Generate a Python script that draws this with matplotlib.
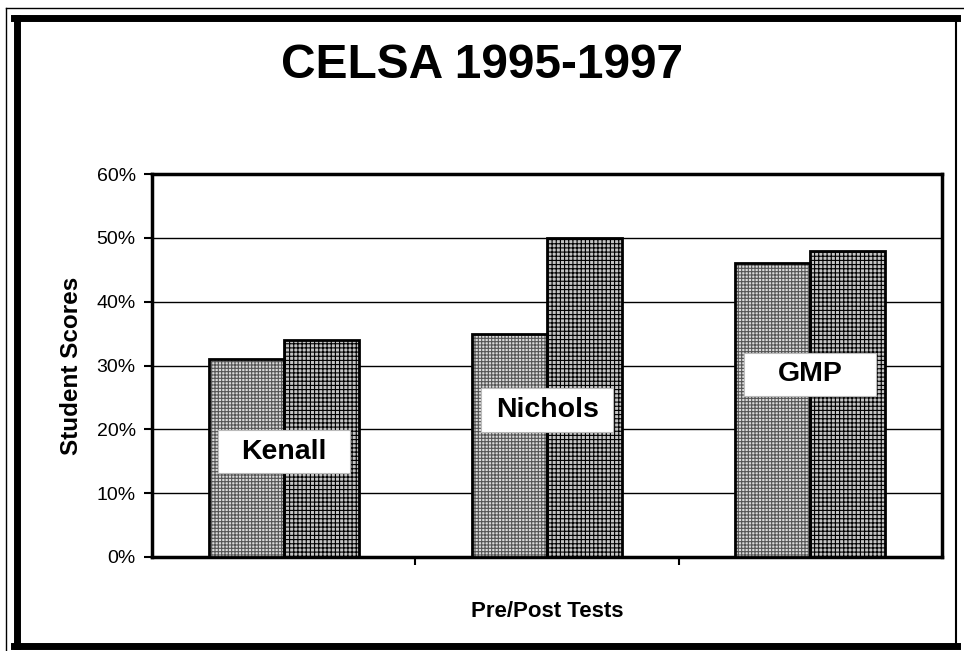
import numpy as np
import matplotlib
matplotlib.use('Agg')
import matplotlib.pyplot as plt
from matplotlib.lines import Line2D
from matplotlib.patches import Rectangle

plt.rcParams['font.family'] = ['Liberation Sans', 'DejaVu Sans']
plt.rcParams['hatch.linewidth'] = 0.8

# data
schools = ['Kenall', 'Nichols', 'GMP']
pre_scores = [31, 35, 46]
post_scores = [34, 50, 48]
label_y = [16.5, 23.0, 28.6]
y_ticks = [0, 10, 20, 30, 40, 50, 60]

fig = plt.figure(figsize=(9.64, 6.51), dpi=100)
ax = fig.add_axes([0.158, 0.1444, 0.819, 0.5883])

x = np.arange(len(schools))
w = 0.285

# pre-test bars: light stipple
ax.bar(x - w / 2, pre_scores, w, color='#dadada', edgecolor='#555555',
       hatch='+++++', linewidth=0, zorder=3)
ax.bar(x - w / 2, pre_scores, w, color='none', edgecolor='black',
       linewidth=2, zorder=4)
# post-test bars: darker grid
ax.bar(x + w / 2, post_scores, w, color='#c4c4c4', edgecolor='#000000',
       hatch='++++', linewidth=0, zorder=3)
ax.bar(x + w / 2, post_scores, w, color='none', edgecolor='black',
       linewidth=2, zorder=4)

# white label boxes over the bar pairs
box_w, box_h = 0.5, 6.8
for xi, name, ly in zip(x, schools, label_y):
    ax.add_patch(Rectangle((xi - box_w / 2, ly - box_h / 2), box_w, box_h,
                           facecolor='white', edgecolor='#bbbbbb', lw=0.8, zorder=5))
    ax.text(xi, ly, name, ha='center', va='center', fontsize=20.5,
            fontweight='bold', zorder=6)

ax.set_xlim(-0.5, 2.5)
ax.set_ylim(0, 60)
ax.set_yticks(y_ticks)
ax.set_yticklabels([f'{t}%' for t in y_ticks], fontsize=14)
ax.set_xticks([0.5, 1.5])
ax.set_xticklabels([])
ax.tick_params(axis='both', direction='out', length=6, width=1.5,
               colors='black', pad=6)
ax.yaxis.grid(True, color='black', linewidth=1, zorder=0)
ax.set_axisbelow(True)
for s in ax.spines.values():
    s.set_linewidth(2.5)

ax.set_ylabel('Student Scores', fontsize=17.5, fontweight='bold', labelpad=10)
ax.set_xlabel('Pre/Post Tests', fontsize=16, fontweight='bold', labelpad=20)

fig.text(0.5, 0.9, 'CELSA 1995-1997', ha='center', va='center',
         fontsize=34.5, fontweight='bold')

# outer page frame
W, H = 964, 651
def fl(x0, y0, x1, y1, lw):
    fig.add_artist(Line2D([x0 / W, x1 / W], [1 - y0 / H, 1 - y1 / H],
                          color='black', linewidth=lw, transform=fig.transFigure))

fl(17, 18, 17, 646, 5)
fl(14, 18, 957, 18, 5)
fl(14, 646, 957, 646, 5)
fl(956, 18, 956, 646, 1.5)
fl(6, 8, 6, 651, 1)
fl(6, 8, 964, 8, 1)

fig.savefig('out.png', dpi=100)
